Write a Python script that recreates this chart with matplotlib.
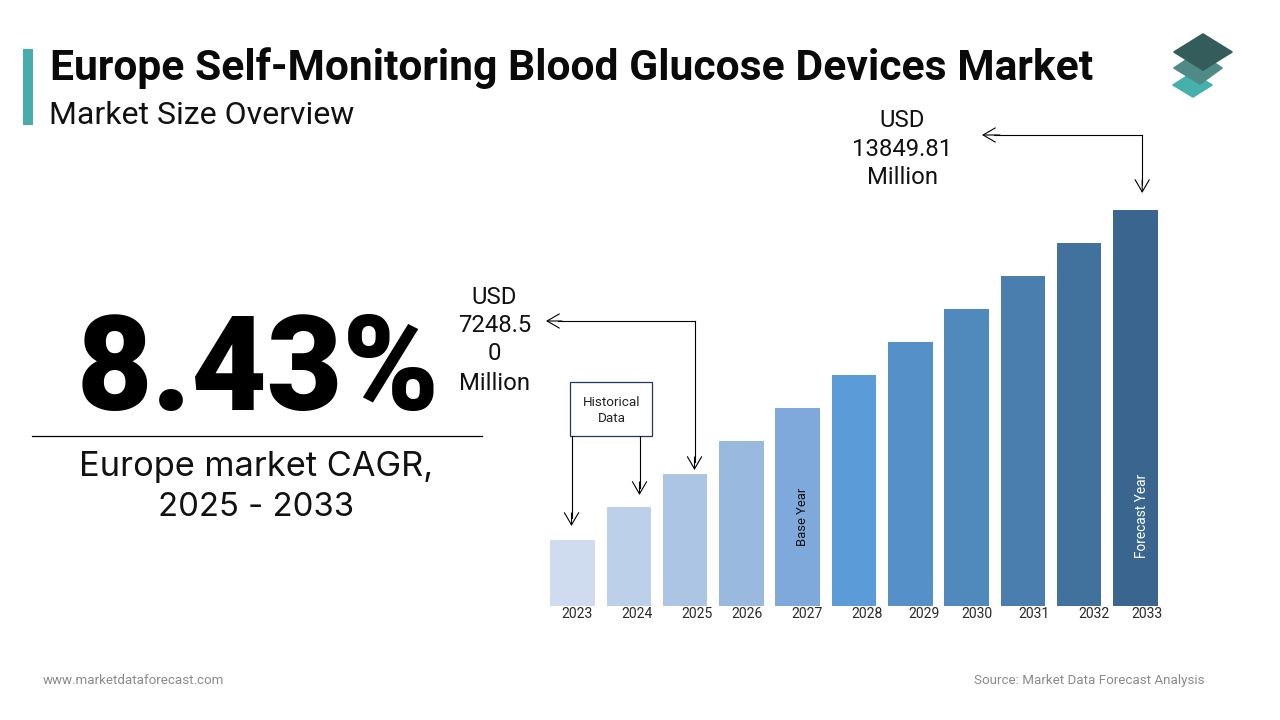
import matplotlib as mpl
mpl.use('agg')
import matplotlib.pyplot as plt
from matplotlib.patches import Polygon, Rectangle

years = ['2023', '2024', '2025', '2026', '2027', '2028', '2029', '2030', '2031', '2032', '2033']
# bars in the picture rise in even steps, values read as picture heights
bar_heights = [66, 99, 132, 165, 198, 231, 264, 297, 330, 363, 396]
bar_colors = ['#cfdcef', '#bcd0ea', '#adc5e5', '#9ab9de', '#7ea9da', '#5b9bd8',
              '#5690c9', '#508abc', '#4a7eaf', '#41719d', '#39658f']
year_label_x = [577, 637, 697, 747, 807, 867, 924, 977, 1034, 1094, 1147]

W, H = 1280, 720
fig = plt.figure(figsize=(12.8, 7.2), dpi=100, facecolor='white')

##--  overlay in pixel coordinates for text and arrows  --##
ov = fig.add_axes([0, 0, 1, 1])
ov.set_xlim(0, W)
ov.set_ylim(H, 0)
ov.axis('off')

##--  bars  --##
left, right = 544.35, 1163.7
bottom, top = 606, 210
ax = fig.add_axes([left / W, 1 - bottom / H, (right - left) / W, (bottom - top) / H])
ax.bar(range(len(years)), bar_heights, width=0.79, color=bar_colors)
ax.set_xlim(-0.5, 10.5)
ax.set_ylim(0, 396)
ax.axis('off')

ax.text(4.08, 89.5, 'Base Year', rotation=90, ha='center', va='center',
        fontsize=9.4, family='Roboto', color='#111111')
ax.text(10.12, 90.5, 'Forecast Year', rotation=90, ha='center', va='center',
        fontsize=9.8, family='Roboto', color='white')

for x, y in zip(year_label_x, years):
    ov.text(x, 613.5, y, ha='center', va='center', fontsize=10.1,
            family='Roboto', color='#2a2a2a')

##--  header  --##
ov.add_patch(Rectangle((23, 49), 10, 76, color='#48adaa', lw=0))
ov.text(50, 68, 'Europe Self-Monitoring Blood Glucose Devices Market', ha='left', va='center',
        fontsize=30.7, fontweight='bold', family='Roboto', color='#0a0a0a')
ov.text(49, 115, 'Market Size Overview', ha='left', va='center',
        fontsize=23.0, family='Roboto', color='#111111')

##--  logo  --##
for pts, c in [([(1192, 73), (1212, 85), (1193, 97), (1173, 85)], '#46b0ad'),
               ([(1198, 52), (1222, 68), (1200, 84), (1174, 68)], '#4f8a87'),
               ([(1203, 34), (1232, 52), (1203, 70), (1174, 52)], '#335c5a')]:
    ov.add_patch(Polygon(pts, fc=c, ec=c, lw=1.2, joinstyle='round'))

##--  left block  --##
ov.text(258.5, 374, '8.43%', ha='center', va='center', fontsize=94,
        fontweight='black', family='Roboto', color='black')
ov.plot([32, 482], [436, 436], color='black', lw=0.9)
ov.text(256, 467, 'Europe market CAGR,', ha='center', va='center', fontsize=24.8,
        family='Inter', color='#111111')
ov.text(256, 507, '2025 - 2033', ha='center', va='center', fontsize=23.7,
        family='Inter', color='#111111')

##--  value labels  --##
for y, s in zip([120.5, 149, 177.5], ['USD', '13849.81', 'Million']):
    ov.text(902.5, y, s, ha='center', va='center', fontsize=17.2, family='Roboto', color='#111111')
for y, s in zip([297, 325.5, 354, 383], ['USD', '7248.5', '0', 'Million']):
    ov.text(494.5, y, s, ha='center', va='center', fontsize=17.2, family='Roboto', color='#111111')

##--  connectors  --##
arrow = dict(arrowstyle='->,head_length=0.55,head_width=0.32', color='black', lw=0.8,
             mutation_scale=16, shrinkA=0, shrinkB=0)
line = dict(color='black', lw=0.8)
ov.plot([994, 1142.2], [135, 135], **line)
ov.plot([1142.2, 1142.2], [135, 185], **line)
ov.annotate('', xy=(982, 135), xytext=(1000, 135), arrowprops=arrow)
ov.annotate('', xy=(1142.2, 193), xytext=(1142.2, 180), arrowprops=arrow)

ov.plot([558, 694.5], [321, 321], **line)
ov.plot([694.5, 694.5], [321, 462], **line)
ov.annotate('', xy=(546, 321), xytext=(562, 321), arrowprops=arrow)
ov.annotate('', xy=(694.5, 470), xytext=(694.5, 457), arrowprops=arrow)

ov.add_patch(Rectangle((570, 382), 82, 54, fc='white', ec='#1f3864', lw=0.9))
ov.text(611.5, 402, 'Historical', ha='center', va='center', fontsize=9.7, family='Roboto', color='#222222')
ov.text(611.5, 418, 'Data', ha='center', va='center', fontsize=9.7, family='Roboto', color='#222222')
ov.plot([571.5, 571.5], [436, 518], **line)
ov.plot([639.5, 639.5], [436, 488], **line)
ov.annotate('', xy=(571.5, 526), xytext=(571.5, 513), arrowprops=arrow)
ov.annotate('', xy=(639.5, 495), xytext=(639.5, 482), arrowprops=arrow)

##--  footer  --##
ov.text(43, 680, 'www.marketdataforecast.com', ha='left', va='center', fontsize=9.65,
        family='Roboto', color='#8a8a8a')
ov.text(1204, 680.8, 'Source: Market Data Forecast Analysis', ha='right', va='center', fontsize=9.6,
        family='Roboto', color='#8a8a8a')

ov.set_zorder(3)
ov.patch.set_alpha(0)

fig.savefig('out.png', dpi=100)
